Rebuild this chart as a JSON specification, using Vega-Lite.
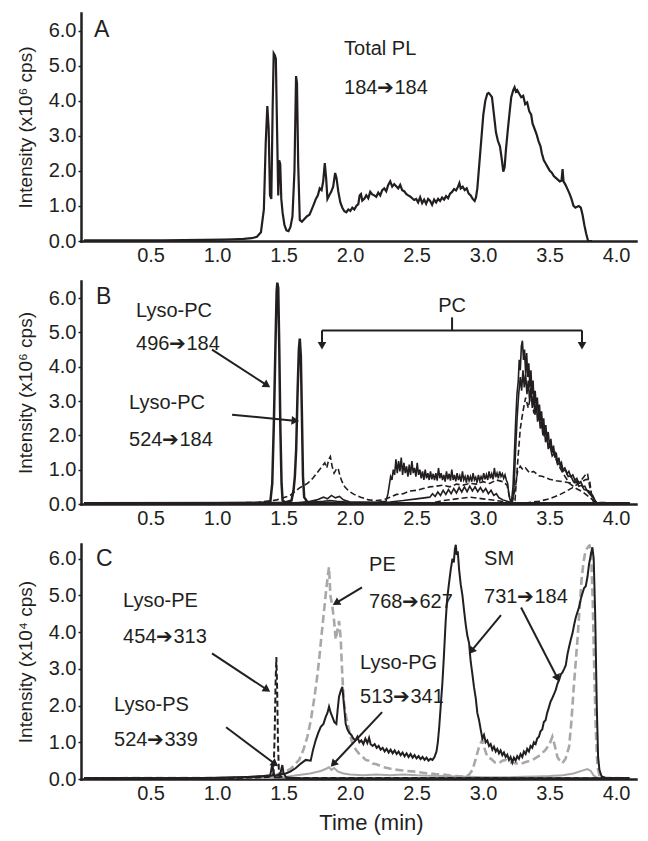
{
"$schema":"https://vega.github.io/schema/vega-lite/v6.json",
"padding":{"left":16,"top":13,"right":9,"bottom":2},
"autosize":{"type":"pad"},
"background":"white",
"spacing":16,
"config":{
 "view":{"stroke":null},
 "axis":{"domainColor":"#231f20","domainWidth":2.5,"domainCap":"square","tickColor":"#231f20","tickWidth":1.5,"labelFont":"Liberation Sans","labelFontSize":20,"labelColor":"#231f20","titleFont":"Liberation Sans","titleFontSize":19,"titleFontWeight":"normal","titleColor":"#231f20","grid":false,"labelOverlap":false},
 "text":{"font":"Liberation Sans","color":"#231f20"}
},
"datasets":{
"A":[
{"t":0,"v":0.02},{"t":0.3,"v":0.02},{"t":0.6,"v":0.02},{"t":0.9,"v":0.03},{"t":1.05,"v":0.04},{"t":1.12,"v":0.05},{"t":1.2,"v":0.06},{"t":1.26,"v":0.08},{"t":1.3,"v":0.12},{"t":1.33,"v":0.25},{"t":1.352,"v":0.9},{"t":1.366,"v":2.8},{"t":1.378,"v":3.85},{"t":1.388,"v":3.2},{"t":1.398,"v":1.3},{"t":1.408,"v":1.2},{"t":1.418,"v":3.8},{"t":1.426,"v":5.35},{"t":1.434,"v":5.3},{"t":1.442,"v":5.2},{"t":1.452,"v":3.0},{"t":1.46,"v":1.3},{"t":1.467,"v":2.3},{"t":1.475,"v":2.2},{"t":1.483,"v":1.2},{"t":1.493,"v":0.8},{"t":1.507,"v":0.45},{"t":1.522,"v":0.3},{"t":1.537,"v":0.28},{"t":1.552,"v":0.4},{"t":1.567,"v":0.7},{"t":1.582,"v":2.0},{"t":1.594,"v":4.7},{"t":1.601,"v":4.5},{"t":1.61,"v":2.2},{"t":1.622,"v":0.6},{"t":1.638,"v":0.55},{"t":1.655,"v":0.62},{"t":1.675,"v":0.7},{"t":1.695,"v":0.75},{"t":1.712,"v":0.9},{"t":1.728,"v":1.05},{"t":1.743,"v":1.2},{"t":1.758,"v":1.3},{"t":1.772,"v":1.5},{"t":1.786,"v":1.45},{"t":1.798,"v":1.7},{"t":1.81,"v":2.22},{"t":1.82,"v":1.8},{"t":1.83,"v":1.2},{"t":1.843,"v":1.3},{"t":1.858,"v":1.4},{"t":1.873,"v":1.55},{"t":1.888,"v":1.94},{"t":1.898,"v":1.8},{"t":1.912,"v":1.4},{"t":1.927,"v":1.1},{"t":1.942,"v":0.95},{"t":1.957,"v":0.85},{"t":1.972,"v":0.82},{"t":1.987,"v":0.9},{"t":2.002,"v":0.86},{"t":2.017,"v":0.95},{"t":2.032,"v":0.9},{"t":2.047,"v":1.0},{"t":2.062,"v":1.05},{"t":2.072,"v":1.3},{"t":2.082,"v":1.34},{"t":2.092,"v":1.15},{"t":2.107,"v":1.2},{"t":2.122,"v":1.3},{"t":2.137,"v":1.22},{"t":2.152,"v":1.4},{"t":2.167,"v":1.33},{"t":2.182,"v":1.3},{"t":2.197,"v":1.26},{"t":2.212,"v":1.38},{"t":2.227,"v":1.3},{"t":2.242,"v":1.45},{"t":2.257,"v":1.5},{"t":2.272,"v":1.42},{"t":2.287,"v":1.6},{"t":2.302,"v":1.7},{"t":2.317,"v":1.55},{"t":2.332,"v":1.62},{"t":2.347,"v":1.56},{"t":2.362,"v":1.5},{"t":2.377,"v":1.6},{"t":2.392,"v":1.45},{"t":2.407,"v":1.42},{"t":2.422,"v":1.34},{"t":2.437,"v":1.3},{"t":2.452,"v":1.27},{"t":2.467,"v":1.22},{"t":2.482,"v":1.17},{"t":2.497,"v":1.2},{"t":2.512,"v":1.1},{"t":2.527,"v":1.25},{"t":2.542,"v":1.08},{"t":2.557,"v":1.18},{"t":2.572,"v":1.06},{"t":2.587,"v":1.2},{"t":2.602,"v":1.14},{"t":2.617,"v":1.03},{"t":2.632,"v":1.18},{"t":2.647,"v":1.1},{"t":2.662,"v":1.2},{"t":2.677,"v":1.14},{"t":2.692,"v":1.24},{"t":2.707,"v":1.18},{"t":2.722,"v":1.28},{"t":2.737,"v":1.22},{"t":2.752,"v":1.35},{"t":2.767,"v":1.4},{"t":2.782,"v":1.48},{"t":2.797,"v":1.44},{"t":2.812,"v":1.55},{"t":2.822,"v":1.65},{"t":2.832,"v":1.5},{"t":2.847,"v":1.55},{"t":2.862,"v":1.45},{"t":2.877,"v":1.5},{"t":2.892,"v":1.35},{"t":2.907,"v":1.3},{"t":2.922,"v":1.2},{"t":2.937,"v":1.14},{"t":2.947,"v":1.25},{"t":2.957,"v":1.5},{"t":2.972,"v":2.2},{"t":2.987,"v":2.9},{"t":3.002,"v":3.6},{"t":3.017,"v":4.0},{"t":3.032,"v":4.2},{"t":3.042,"v":4.22},{"t":3.052,"v":4.18},{"t":3.067,"v":4.1},{"t":3.082,"v":3.6},{"t":3.097,"v":3.1},{"t":3.112,"v":2.85},{"t":3.127,"v":2.7},{"t":3.142,"v":2.3},{"t":3.152,"v":1.98},{"t":3.162,"v":2.1},{"t":3.172,"v":2.6},{"t":3.187,"v":3.2},{"t":3.202,"v":3.75},{"t":3.212,"v":4.1},{"t":3.227,"v":4.3},{"t":3.237,"v":4.38},{"t":3.247,"v":4.26},{"t":3.257,"v":4.3},{"t":3.272,"v":4.2},{"t":3.287,"v":4.1},{"t":3.302,"v":4.14},{"t":3.317,"v":3.9},{"t":3.332,"v":3.95},{"t":3.347,"v":3.7},{"t":3.362,"v":3.6},{"t":3.372,"v":3.35},{"t":3.387,"v":3.2},{"t":3.402,"v":3.05},{"t":3.417,"v":2.85},{"t":3.432,"v":2.7},{"t":3.442,"v":2.5},{"t":3.457,"v":2.3},{"t":3.472,"v":2.2},{"t":3.487,"v":2.1},{"t":3.502,"v":2.0},{"t":3.517,"v":1.95},{"t":3.532,"v":1.85},{"t":3.547,"v":1.8},{"t":3.562,"v":1.75},{"t":3.577,"v":1.7},{"t":3.59,"v":1.72},{"t":3.598,"v":2.05},{"t":3.605,"v":1.7},{"t":3.62,"v":1.6},{"t":3.635,"v":1.48},{"t":3.65,"v":1.35},{"t":3.665,"v":1.2},{"t":3.68,"v":1.0},{"t":3.695,"v":0.95},{"t":3.708,"v":0.98},{"t":3.72,"v":1.0},{"t":3.735,"v":0.95},{"t":3.748,"v":0.75},{"t":3.762,"v":0.45},{"t":3.776,"v":0.2},{"t":3.79,"v":0.0},{"t":3.82,"v":0.0}
],
"B":[
{"s":"L496","t":0,"v":0.02},{"s":"L496","t":1.0,"v":0.02},{"s":"L496","t":1.3,"v":0.03},{"s":"L496","t":1.4,"v":0.05},{"s":"L496","t":1.415,"v":0.6},{"s":"L496","t":1.428,"v":2.5},{"s":"L496","t":1.44,"v":4.8},{"s":"L496","t":1.448,"v":6.2},{"s":"L496","t":1.453,"v":6.45},{"s":"L496","t":1.46,"v":6.3},{"s":"L496","t":1.468,"v":4.5},{"s":"L496","t":1.476,"v":2.2},{"s":"L496","t":1.485,"v":0.6},{"s":"L496","t":1.493,"v":0.1},{"s":"L496","t":1.52,"v":0.03},{"s":"L496","t":2.0,"v":0.02},{"s":"L496","t":4.1,"v":0.02},
{"s":"L524","t":0,"v":0.02},{"s":"L524","t":1.5,"v":0.03},{"s":"L524","t":1.56,"v":0.1},{"s":"L524","t":1.575,"v":0.4},{"s":"L524","t":1.585,"v":0.8},{"s":"L524","t":1.595,"v":1.6},{"s":"L524","t":1.605,"v":3.2},{"s":"L524","t":1.615,"v":4.5},{"s":"L524","t":1.622,"v":4.82},{"s":"L524","t":1.63,"v":4.3},{"s":"L524","t":1.638,"v":2.6},{"s":"L524","t":1.646,"v":0.8},{"s":"L524","t":1.655,"v":0.2},{"s":"L524","t":1.68,"v":0.05},{"s":"L524","t":2.0,"v":0.02},{"s":"L524","t":4.1,"v":0.02},
{"s":"PC1","t":0,"v":0.02},{"s":"PC1","t":1.5,"v":0.03},{"s":"PC1","t":1.7,"v":0.05},{"s":"PC1","t":1.8,"v":0.08},{"s":"PC1","t":1.85,"v":0.1},{"s":"PC1","t":1.9,"v":0.08},{"s":"PC1","t":2.0,"v":0.05},{"s":"PC1","t":2.2,"v":0.05},{"s":"PC1","t":2.27,"v":0.08},{"s":"PC1","t":2.285,"v":0.3},{"s":"PC1","t":2.295,"v":0.55},{"s":"PC1","t":2.305,"v":0.8},{"s":"PC1","t":2.315,"v":0.7},{"s":"PC1","t":2.325,"v":1.0},{"s":"PC1","t":2.335,"v":0.85},{"s":"PC1","t":2.345,"v":1.3},{"s":"PC1","t":2.355,"v":0.9},{"s":"PC1","t":2.365,"v":1.25},{"s":"PC1","t":2.375,"v":0.95},{"s":"PC1","t":2.385,"v":1.35},{"s":"PC1","t":2.395,"v":0.85},{"s":"PC1","t":2.405,"v":1.2},{"s":"PC1","t":2.415,"v":0.9},{"s":"PC1","t":2.425,"v":1.1},{"s":"PC1","t":2.435,"v":0.8},{"s":"PC1","t":2.445,"v":1.15},{"s":"PC1","t":2.455,"v":0.85},{"s":"PC1","t":2.465,"v":1.25},{"s":"PC1","t":2.475,"v":0.9},{"s":"PC1","t":2.485,"v":1.05},{"s":"PC1","t":2.495,"v":0.8},{"s":"PC1","t":2.505,"v":1.2},{"s":"PC1","t":2.515,"v":0.85},{"s":"PC1","t":2.525,"v":1.0},{"s":"PC1","t":2.535,"v":0.75},{"s":"PC1","t":2.545,"v":0.95},{"s":"PC1","t":2.555,"v":0.7},{"s":"PC1","t":2.565,"v":1.0},{"s":"PC1","t":2.575,"v":0.75},{"s":"PC1","t":2.585,"v":0.9},{"s":"PC1","t":2.595,"v":0.7},{"s":"PC1","t":2.605,"v":0.95},{"s":"PC1","t":2.615,"v":0.72},{"s":"PC1","t":2.625,"v":0.88},{"s":"PC1","t":2.635,"v":0.7},{"s":"PC1","t":2.645,"v":0.9},{"s":"PC1","t":2.655,"v":0.68},{"s":"PC1","t":2.665,"v":1.05},{"s":"PC1","t":2.675,"v":0.75},{"s":"PC1","t":2.685,"v":0.9},{"s":"PC1","t":2.695,"v":0.7},{"s":"PC1","t":2.705,"v":0.85},{"s":"PC1","t":2.715,"v":0.65},{"s":"PC1","t":2.725,"v":0.95},{"s":"PC1","t":2.735,"v":0.72},{"s":"PC1","t":2.745,"v":0.88},{"s":"PC1","t":2.755,"v":0.68},{"s":"PC1","t":2.765,"v":1.0},{"s":"PC1","t":2.775,"v":0.7},{"s":"PC1","t":2.785,"v":0.85},{"s":"PC1","t":2.795,"v":0.66},{"s":"PC1","t":2.805,"v":0.9},{"s":"PC1","t":2.815,"v":0.7},{"s":"PC1","t":2.825,"v":0.82},{"s":"PC1","t":2.835,"v":0.65},{"s":"PC1","t":2.845,"v":0.95},{"s":"PC1","t":2.855,"v":0.7},{"s":"PC1","t":2.865,"v":0.8},{"s":"PC1","t":2.875,"v":0.62},{"s":"PC1","t":2.885,"v":0.85},{"s":"PC1","t":2.895,"v":0.68},{"s":"PC1","t":2.905,"v":0.8},{"s":"PC1","t":2.915,"v":0.65},{"s":"PC1","t":2.925,"v":0.9},{"s":"PC1","t":2.935,"v":0.7},{"s":"PC1","t":2.945,"v":0.78},{"s":"PC1","t":2.955,"v":0.62},{"s":"PC1","t":2.965,"v":0.85},{"s":"PC1","t":2.975,"v":0.68},{"s":"PC1","t":2.985,"v":0.8},{"s":"PC1","t":2.995,"v":0.7},{"s":"PC1","t":3.005,"v":0.9},{"s":"PC1","t":3.015,"v":0.72},{"s":"PC1","t":3.025,"v":0.85},{"s":"PC1","t":3.035,"v":0.7},{"s":"PC1","t":3.045,"v":0.95},{"s":"PC1","t":3.055,"v":0.75},{"s":"PC1","t":3.065,"v":0.88},{"s":"PC1","t":3.075,"v":0.72},{"s":"PC1","t":3.085,"v":1.05},{"s":"PC1","t":3.095,"v":0.78},{"s":"PC1","t":3.105,"v":0.9},{"s":"PC1","t":3.115,"v":0.75},{"s":"PC1","t":3.125,"v":0.95},{"s":"PC1","t":3.135,"v":0.8},{"s":"PC1","t":3.145,"v":0.88},{"s":"PC1","t":3.155,"v":0.75},{"s":"PC1","t":3.165,"v":0.85},{"s":"PC1","t":3.175,"v":0.7},{"s":"PC1","t":3.185,"v":0.6},{"s":"PC1","t":3.195,"v":0.25},{"s":"PC1","t":3.205,"v":0.1},{"s":"PC1","t":3.215,"v":0.12},{"s":"PC1","t":3.225,"v":0.5},{"s":"PC1","t":3.235,"v":1.4},{"s":"PC1","t":3.245,"v":2.4},{"s":"PC1","t":3.255,"v":3.2},{"s":"PC1","t":3.265,"v":3.6},{"s":"PC1","t":3.272,"v":4.2},{"s":"PC1","t":3.28,"v":3.9},{"s":"PC1","t":3.288,"v":4.6},{"s":"PC1","t":3.296,"v":4.76},{"s":"PC1","t":3.304,"v":4.2},{"s":"PC1","t":3.312,"v":4.5},{"s":"PC1","t":3.32,"v":3.8},{"s":"PC1","t":3.328,"v":4.4},{"s":"PC1","t":3.336,"v":3.7},{"s":"PC1","t":3.344,"v":4.1},{"s":"PC1","t":3.352,"v":3.4},{"s":"PC1","t":3.36,"v":3.9},{"s":"PC1","t":3.368,"v":3.2},{"s":"PC1","t":3.376,"v":3.6},{"s":"PC1","t":3.384,"v":2.9},{"s":"PC1","t":3.392,"v":3.3},{"s":"PC1","t":3.4,"v":2.8},{"s":"PC1","t":3.408,"v":3.1},{"s":"PC1","t":3.416,"v":2.6},{"s":"PC1","t":3.424,"v":2.9},{"s":"PC1","t":3.432,"v":2.4},{"s":"PC1","t":3.44,"v":2.7},{"s":"PC1","t":3.448,"v":2.2},{"s":"PC1","t":3.456,"v":2.5},{"s":"PC1","t":3.464,"v":2.0},{"s":"PC1","t":3.472,"v":2.3},{"s":"PC1","t":3.48,"v":1.9},{"s":"PC1","t":3.49,"v":2.1},{"s":"PC1","t":3.5,"v":1.7},{"s":"PC1","t":3.51,"v":1.9},{"s":"PC1","t":3.52,"v":1.5},{"s":"PC1","t":3.53,"v":1.7},{"s":"PC1","t":3.54,"v":1.35},{"s":"PC1","t":3.55,"v":1.5},{"s":"PC1","t":3.56,"v":1.2},{"s":"PC1","t":3.57,"v":1.35},{"s":"PC1","t":3.58,"v":1.1},{"s":"PC1","t":3.59,"v":1.2},{"s":"PC1","t":3.6,"v":1.0},{"s":"PC1","t":3.615,"v":1.05},{"s":"PC1","t":3.63,"v":0.88},{"s":"PC1","t":3.645,"v":0.95},{"s":"PC1","t":3.66,"v":0.8},{"s":"PC1","t":3.675,"v":0.85},{"s":"PC1","t":3.69,"v":0.7},{"s":"PC1","t":3.705,"v":0.75},{"s":"PC1","t":3.72,"v":0.6},{"s":"PC1","t":3.735,"v":0.65},{"s":"PC1","t":3.75,"v":0.5},{"s":"PC1","t":3.765,"v":0.52},{"s":"PC1","t":3.78,"v":0.4},{"s":"PC1","t":3.795,"v":0.38},{"s":"PC1","t":3.81,"v":0.3},{"s":"PC1","t":3.825,"v":0.25},{"s":"PC1","t":3.84,"v":0.12},{"s":"PC1","t":3.855,"v":0.03},{"s":"PC1","t":4.1,"v":0.02},
{"s":"PC2","t":0,"v":0.02},{"s":"PC2","t":1.6,"v":0.03},{"s":"PC2","t":1.7,"v":0.08},{"s":"PC2","t":1.75,"v":0.12},{"s":"PC2","t":1.8,"v":0.2},{"s":"PC2","t":1.83,"v":0.15},{"s":"PC2","t":1.86,"v":0.25},{"s":"PC2","t":1.89,"v":0.18},{"s":"PC2","t":1.92,"v":0.22},{"s":"PC2","t":1.95,"v":0.12},{"s":"PC2","t":2.0,"v":0.06},{"s":"PC2","t":2.2,"v":0.04},{"s":"PC2","t":2.3,"v":0.06},{"s":"PC2","t":2.4,"v":0.1},{"s":"PC2","t":2.5,"v":0.15},{"s":"PC2","t":2.6,"v":0.2},{"s":"PC2","t":2.62,"v":0.3},{"s":"PC2","t":2.64,"v":0.22},{"s":"PC2","t":2.66,"v":0.35},{"s":"PC2","t":2.68,"v":0.25},{"s":"PC2","t":2.7,"v":0.4},{"s":"PC2","t":2.72,"v":0.28},{"s":"PC2","t":2.74,"v":0.42},{"s":"PC2","t":2.76,"v":0.3},{"s":"PC2","t":2.78,"v":0.45},{"s":"PC2","t":2.8,"v":0.32},{"s":"PC2","t":2.82,"v":0.48},{"s":"PC2","t":2.84,"v":0.35},{"s":"PC2","t":2.86,"v":0.5},{"s":"PC2","t":2.88,"v":0.36},{"s":"PC2","t":2.9,"v":0.52},{"s":"PC2","t":2.92,"v":0.38},{"s":"PC2","t":2.94,"v":0.5},{"s":"PC2","t":2.96,"v":0.36},{"s":"PC2","t":2.98,"v":0.48},{"s":"PC2","t":3.0,"v":0.35},{"s":"PC2","t":3.02,"v":0.45},{"s":"PC2","t":3.04,"v":0.3},{"s":"PC2","t":3.06,"v":0.4},{"s":"PC2","t":3.08,"v":0.25},{"s":"PC2","t":3.1,"v":0.3},{"s":"PC2","t":3.12,"v":0.18},{"s":"PC2","t":3.15,"v":0.12},{"s":"PC2","t":3.18,"v":0.08},{"s":"PC2","t":3.2,"v":0.05},{"s":"PC2","t":3.22,"v":0.05},{"s":"PC2","t":3.232,"v":0.4},{"s":"PC2","t":3.244,"v":1.5},{"s":"PC2","t":3.256,"v":2.5},{"s":"PC2","t":3.268,"v":3.2},{"s":"PC2","t":3.28,"v":3.7},{"s":"PC2","t":3.29,"v":3.3},{"s":"PC2","t":3.3,"v":3.9},{"s":"PC2","t":3.31,"v":3.4},{"s":"PC2","t":3.32,"v":3.8},{"s":"PC2","t":3.33,"v":3.2},{"s":"PC2","t":3.34,"v":3.6},{"s":"PC2","t":3.35,"v":3.0},{"s":"PC2","t":3.36,"v":3.4},{"s":"PC2","t":3.37,"v":2.8},{"s":"PC2","t":3.38,"v":3.2},{"s":"PC2","t":3.39,"v":2.6},{"s":"PC2","t":3.4,"v":2.9},{"s":"PC2","t":3.41,"v":2.4},{"s":"PC2","t":3.42,"v":2.7},{"s":"PC2","t":3.43,"v":2.2},{"s":"PC2","t":3.44,"v":2.4},{"s":"PC2","t":3.45,"v":2.0},{"s":"PC2","t":3.46,"v":2.2},{"s":"PC2","t":3.47,"v":1.8},{"s":"PC2","t":3.48,"v":2.0},{"s":"PC2","t":3.49,"v":1.6},{"s":"PC2","t":3.5,"v":1.75},{"s":"PC2","t":3.52,"v":1.4},{"s":"PC2","t":3.54,"v":1.5},{"s":"PC2","t":3.56,"v":1.15},{"s":"PC2","t":3.58,"v":1.2},{"s":"PC2","t":3.6,"v":0.95},{"s":"PC2","t":3.62,"v":1.0},{"s":"PC2","t":3.64,"v":0.8},{"s":"PC2","t":3.66,"v":0.82},{"s":"PC2","t":3.68,"v":0.65},{"s":"PC2","t":3.7,"v":0.68},{"s":"PC2","t":3.72,"v":0.52},{"s":"PC2","t":3.74,"v":0.55},{"s":"PC2","t":3.76,"v":0.42},{"s":"PC2","t":3.78,"v":0.4},{"s":"PC2","t":3.8,"v":0.3},{"s":"PC2","t":3.82,"v":0.22},{"s":"PC2","t":3.84,"v":0.1},{"s":"PC2","t":3.86,"v":0.02},{"s":"PC2","t":4.1,"v":0.02},
{"s":"PC3","t":0,"v":0.02},{"s":"PC3","t":1.3,"v":0.04},{"s":"PC3","t":1.45,"v":0.12},{"s":"PC3","t":1.55,"v":0.25},{"s":"PC3","t":1.62,"v":0.47},{"s":"PC3","t":1.68,"v":0.6},{"s":"PC3","t":1.72,"v":0.75},{"s":"PC3","t":1.76,"v":0.95},{"s":"PC3","t":1.79,"v":1.1},{"s":"PC3","t":1.81,"v":1.2},{"s":"PC3","t":1.825,"v":1.05},{"s":"PC3","t":1.84,"v":1.3},{"s":"PC3","t":1.852,"v":1.38},{"s":"PC3","t":1.865,"v":1.1},{"s":"PC3","t":1.88,"v":0.9},{"s":"PC3","t":1.895,"v":1.0},{"s":"PC3","t":1.91,"v":1.05},{"s":"PC3","t":1.925,"v":0.8},{"s":"PC3","t":1.94,"v":0.65},{"s":"PC3","t":1.96,"v":0.5},{"s":"PC3","t":1.99,"v":0.38},{"s":"PC3","t":2.03,"v":0.28},{"s":"PC3","t":2.08,"v":0.2},{"s":"PC3","t":2.14,"v":0.12},{"s":"PC3","t":2.2,"v":0.1},{"s":"PC3","t":2.25,"v":0.12},{"s":"PC3","t":2.3,"v":0.2},{"s":"PC3","t":2.35,"v":0.28},{"s":"PC3","t":2.4,"v":0.3},{"s":"PC3","t":2.45,"v":0.38},{"s":"PC3","t":2.5,"v":0.4},{"s":"PC3","t":2.55,"v":0.45},{"s":"PC3","t":2.6,"v":0.5},{"s":"PC3","t":2.65,"v":0.52},{"s":"PC3","t":2.7,"v":0.55},{"s":"PC3","t":2.75,"v":0.5},{"s":"PC3","t":2.8,"v":0.58},{"s":"PC3","t":2.85,"v":0.55},{"s":"PC3","t":2.9,"v":0.6},{"s":"PC3","t":2.95,"v":0.58},{"s":"PC3","t":3.0,"v":0.65},{"s":"PC3","t":3.05,"v":0.6},{"s":"PC3","t":3.1,"v":0.7},{"s":"PC3","t":3.15,"v":0.65},{"s":"PC3","t":3.18,"v":0.55},{"s":"PC3","t":3.2,"v":0.2},{"s":"PC3","t":3.22,"v":0.08},{"s":"PC3","t":3.24,"v":0.4},{"s":"PC3","t":3.26,"v":0.96},{"s":"PC3","t":3.28,"v":1.1},{"s":"PC3","t":3.3,"v":1.0},{"s":"PC3","t":3.32,"v":1.05},{"s":"PC3","t":3.35,"v":0.9},{"s":"PC3","t":3.38,"v":0.95},{"s":"PC3","t":3.42,"v":0.82},{"s":"PC3","t":3.45,"v":0.8},{"s":"PC3","t":3.5,"v":0.72},{"s":"PC3","t":3.55,"v":0.68},{"s":"PC3","t":3.6,"v":0.65},{"s":"PC3","t":3.65,"v":0.62},{"s":"PC3","t":3.7,"v":0.62},{"s":"PC3","t":3.74,"v":0.7},{"s":"PC3","t":3.77,"v":0.85},{"s":"PC3","t":3.785,"v":0.9},{"s":"PC3","t":3.8,"v":0.55},{"s":"PC3","t":3.82,"v":0.2},{"s":"PC3","t":3.85,"v":0.03},{"s":"PC3","t":4.1,"v":0.02},
{"s":"PC4","t":0,"v":0.02},{"s":"PC4","t":3.3,"v":0.02},{"s":"PC4","t":3.42,"v":0.08},{"s":"PC4","t":3.5,"v":0.15},{"s":"PC4","t":3.57,"v":0.26},{"s":"PC4","t":3.62,"v":0.36},{"s":"PC4","t":3.67,"v":0.47},{"s":"PC4","t":3.72,"v":0.6},{"s":"PC4","t":3.772,"v":0.71},{"s":"PC4","t":3.8,"v":0.72},{"s":"PC4","t":3.815,"v":0.3},{"s":"PC4","t":3.83,"v":0.05},{"s":"PC4","t":4.1,"v":0.02},
{"s":"PC5","t":0,"v":0.02},{"s":"PC5","t":2.6,"v":0.02},{"s":"PC5","t":2.7,"v":0.1},{"s":"PC5","t":2.8,"v":0.15},{"s":"PC5","t":2.9,"v":0.2},{"s":"PC5","t":3.0,"v":0.15},{"s":"PC5","t":3.1,"v":0.1},{"s":"PC5","t":3.2,"v":0.05},{"s":"PC5","t":3.24,"v":0.1},{"s":"PC5","t":3.26,"v":1.2},{"s":"PC5","t":3.28,"v":2.2},{"s":"PC5","t":3.3,"v":2.7},{"s":"PC5","t":3.32,"v":3.1},{"s":"PC5","t":3.34,"v":2.8},{"s":"PC5","t":3.36,"v":3.2},{"s":"PC5","t":3.38,"v":2.7},{"s":"PC5","t":3.4,"v":2.9},{"s":"PC5","t":3.42,"v":2.4},{"s":"PC5","t":3.44,"v":2.5},{"s":"PC5","t":3.46,"v":2.0},{"s":"PC5","t":3.48,"v":2.1},{"s":"PC5","t":3.5,"v":1.7},{"s":"PC5","t":3.53,"v":1.5},{"s":"PC5","t":3.56,"v":1.2},{"s":"PC5","t":3.6,"v":0.9},{"s":"PC5","t":3.65,"v":0.6},{"s":"PC5","t":3.7,"v":0.45},{"s":"PC5","t":3.75,"v":0.35},{"s":"PC5","t":3.8,"v":0.2},{"s":"PC5","t":3.85,"v":0.03},{"s":"PC5","t":4.1,"v":0.02}
],
"C":[
{"s":"SM","t":0,"v":0.02},{"s":"SM","t":0.8,"v":0.02},{"s":"SM","t":1.1,"v":0.04},{"s":"SM","t":1.3,"v":0.06},{"s":"SM","t":1.45,"v":0.1},{"s":"SM","t":1.516,"v":0.15},{"s":"SM","t":1.55,"v":0.2},{"s":"SM","t":1.592,"v":0.3},{"s":"SM","t":1.63,"v":0.42},{"s":"SM","t":1.667,"v":0.52},{"s":"SM","t":1.704,"v":0.5},{"s":"SM","t":1.722,"v":0.8},{"s":"SM","t":1.742,"v":1.06},{"s":"SM","t":1.76,"v":1.25},{"s":"SM","t":1.78,"v":1.42},{"s":"SM","t":1.8,"v":1.5},{"s":"SM","t":1.817,"v":1.69},{"s":"SM","t":1.83,"v":1.8},{"s":"SM","t":1.842,"v":1.97},{"s":"SM","t":1.855,"v":1.8},{"s":"SM","t":1.867,"v":1.69},{"s":"SM","t":1.882,"v":1.55},{"s":"SM","t":1.897,"v":1.5},{"s":"SM","t":1.907,"v":1.9},{"s":"SM","t":1.917,"v":2.24},{"s":"SM","t":1.93,"v":2.4},{"s":"SM","t":1.942,"v":2.51},{"s":"SM","t":1.955,"v":2.0},{"s":"SM","t":1.967,"v":1.51},{"s":"SM","t":1.98,"v":1.35},{"s":"SM","t":1.995,"v":1.25},{"s":"SM","t":2.01,"v":1.2},{"s":"SM","t":2.025,"v":1.1},{"s":"SM","t":2.04,"v":1.05},{"s":"SM","t":2.055,"v":1.15},{"s":"SM","t":2.07,"v":1.0},{"s":"SM","t":2.085,"v":1.05},{"s":"SM","t":2.1,"v":0.95},{"s":"SM","t":2.115,"v":1.1},{"s":"SM","t":2.13,"v":0.98},{"s":"SM","t":2.143,"v":1.12},{"s":"SM","t":2.155,"v":0.95},{"s":"SM","t":2.17,"v":0.9},{"s":"SM","t":2.185,"v":0.95},{"s":"SM","t":2.2,"v":0.85},{"s":"SM","t":2.215,"v":0.9},{"s":"SM","t":2.23,"v":0.8},{"s":"SM","t":2.245,"v":0.85},{"s":"SM","t":2.26,"v":0.75},{"s":"SM","t":2.275,"v":0.82},{"s":"SM","t":2.29,"v":0.72},{"s":"SM","t":2.305,"v":0.8},{"s":"SM","t":2.32,"v":0.7},{"s":"SM","t":2.335,"v":0.78},{"s":"SM","t":2.35,"v":0.68},{"s":"SM","t":2.365,"v":0.75},{"s":"SM","t":2.38,"v":0.65},{"s":"SM","t":2.395,"v":0.72},{"s":"SM","t":2.41,"v":0.62},{"s":"SM","t":2.425,"v":0.7},{"s":"SM","t":2.44,"v":0.6},{"s":"SM","t":2.455,"v":0.68},{"s":"SM","t":2.47,"v":0.58},{"s":"SM","t":2.485,"v":0.65},{"s":"SM","t":2.5,"v":0.56},{"s":"SM","t":2.515,"v":0.62},{"s":"SM","t":2.53,"v":0.54},{"s":"SM","t":2.545,"v":0.6},{"s":"SM","t":2.56,"v":0.52},{"s":"SM","t":2.575,"v":0.58},{"s":"SM","t":2.59,"v":0.5},{"s":"SM","t":2.605,"v":0.55},{"s":"SM","t":2.62,"v":0.52},{"s":"SM","t":2.635,"v":0.6},{"s":"SM","t":2.65,"v":0.75},{"s":"SM","t":2.66,"v":1.0},{"s":"SM","t":2.67,"v":1.4},{"s":"SM","t":2.68,"v":1.9},{"s":"SM","t":2.694,"v":2.6},{"s":"SM","t":2.705,"v":3.3},{"s":"SM","t":2.719,"v":4.3},{"s":"SM","t":2.73,"v":4.9},{"s":"SM","t":2.743,"v":5.3},{"s":"SM","t":2.757,"v":5.7},{"s":"SM","t":2.77,"v":6.0},{"s":"SM","t":2.78,"v":5.9},{"s":"SM","t":2.788,"v":6.25},{"s":"SM","t":2.795,"v":6.38},{"s":"SM","t":2.802,"v":6.1},{"s":"SM","t":2.81,"v":6.2},{"s":"SM","t":2.82,"v":5.7},{"s":"SM","t":2.832,"v":5.3},{"s":"SM","t":2.845,"v":5.0},{"s":"SM","t":2.857,"v":4.6},{"s":"SM","t":2.87,"v":4.2},{"s":"SM","t":2.882,"v":3.9},{"s":"SM","t":2.895,"v":3.7},{"s":"SM","t":2.907,"v":3.2},{"s":"SM","t":2.92,"v":2.85},{"s":"SM","t":2.932,"v":2.5},{"s":"SM","t":2.945,"v":2.2},{"s":"SM","t":2.957,"v":1.8},{"s":"SM","t":2.97,"v":1.6},{"s":"SM","t":2.982,"v":1.35},{"s":"SM","t":2.995,"v":1.1},{"s":"SM","t":3.007,"v":1.2},{"s":"SM","t":3.02,"v":1.0},{"s":"SM","t":3.032,"v":1.05},{"s":"SM","t":3.045,"v":0.9},{"s":"SM","t":3.057,"v":0.95},{"s":"SM","t":3.07,"v":0.8},{"s":"SM","t":3.082,"v":0.88},{"s":"SM","t":3.095,"v":0.75},{"s":"SM","t":3.107,"v":0.82},{"s":"SM","t":3.12,"v":0.7},{"s":"SM","t":3.132,"v":0.78},{"s":"SM","t":3.145,"v":0.65},{"s":"SM","t":3.157,"v":0.72},{"s":"SM","t":3.17,"v":0.6},{"s":"SM","t":3.182,"v":0.66},{"s":"SM","t":3.195,"v":0.52},{"s":"SM","t":3.207,"v":0.6},{"s":"SM","t":3.22,"v":0.45},{"s":"SM","t":3.232,"v":0.58},{"s":"SM","t":3.245,"v":0.5},{"s":"SM","t":3.257,"v":0.62},{"s":"SM","t":3.27,"v":0.55},{"s":"SM","t":3.282,"v":0.68},{"s":"SM","t":3.295,"v":0.6},{"s":"SM","t":3.307,"v":0.75},{"s":"SM","t":3.32,"v":0.68},{"s":"SM","t":3.332,"v":0.82},{"s":"SM","t":3.345,"v":0.75},{"s":"SM","t":3.357,"v":0.9},{"s":"SM","t":3.37,"v":0.85},{"s":"SM","t":3.382,"v":1.0},{"s":"SM","t":3.395,"v":0.95},{"s":"SM","t":3.407,"v":1.1},{"s":"SM","t":3.42,"v":1.15},{"s":"SM","t":3.432,"v":1.3},{"s":"SM","t":3.445,"v":1.35},{"s":"SM","t":3.457,"v":1.55},{"s":"SM","t":3.47,"v":1.6},{"s":"SM","t":3.482,"v":1.8},{"s":"SM","t":3.495,"v":1.95},{"s":"SM","t":3.507,"v":2.1},{"s":"SM","t":3.52,"v":2.2},{"s":"SM","t":3.532,"v":2.3},{"s":"SM","t":3.546,"v":2.42},{"s":"SM","t":3.56,"v":2.6},{"s":"SM","t":3.572,"v":2.7},{"s":"SM","t":3.585,"v":2.85},{"s":"SM","t":3.597,"v":2.9},{"s":"SM","t":3.61,"v":3.0},{"s":"SM","t":3.622,"v":3.1},{"s":"SM","t":3.635,"v":3.4},{"s":"SM","t":3.647,"v":3.6},{"s":"SM","t":3.66,"v":3.8},{"s":"SM","t":3.672,"v":3.96},{"s":"SM","t":3.685,"v":4.2},{"s":"SM","t":3.697,"v":4.4},{"s":"SM","t":3.71,"v":4.55},{"s":"SM","t":3.722,"v":4.68},{"s":"SM","t":3.735,"v":4.9},{"s":"SM","t":3.747,"v":5.05},{"s":"SM","t":3.76,"v":5.2},{"s":"SM","t":3.772,"v":5.25},{"s":"SM","t":3.785,"v":5.5},{"s":"SM","t":3.797,"v":5.85},{"s":"SM","t":3.81,"v":6.1},{"s":"SM","t":3.822,"v":6.31},{"s":"SM","t":3.832,"v":6.0},{"s":"SM","t":3.843,"v":4.5},{"s":"SM","t":3.855,"v":2.0},{"s":"SM","t":3.865,"v":0.6},{"s":"SM","t":3.875,"v":0.25},{"s":"SM","t":3.89,"v":0.08},{"s":"SM","t":3.92,"v":0.03},{"s":"SM","t":4.1,"v":0.02},
{"s":"PE","t":0,"v":0.02},{"s":"PE","t":1.3,"v":0.03},{"s":"PE","t":1.42,"v":0.08},{"s":"PE","t":1.47,"v":0.15},{"s":"PE","t":1.516,"v":0.2},{"s":"PE","t":1.56,"v":0.3},{"s":"PE","t":1.617,"v":0.52},{"s":"PE","t":1.65,"v":0.8},{"s":"PE","t":1.679,"v":1.15},{"s":"PE","t":1.705,"v":1.6},{"s":"PE","t":1.729,"v":2.15},{"s":"PE","t":1.75,"v":2.7},{"s":"PE","t":1.767,"v":3.23},{"s":"PE","t":1.785,"v":3.9},{"s":"PE","t":1.805,"v":4.6},{"s":"PE","t":1.822,"v":5.2},{"s":"PE","t":1.835,"v":5.6},{"s":"PE","t":1.842,"v":5.77},{"s":"PE","t":1.852,"v":5.0},{"s":"PE","t":1.867,"v":4.7},{"s":"PE","t":1.88,"v":4.3},{"s":"PE","t":1.892,"v":3.8},{"s":"PE","t":1.905,"v":4.05},{"s":"PE","t":1.918,"v":4.3},{"s":"PE","t":1.93,"v":3.8},{"s":"PE","t":1.942,"v":2.8},{"s":"PE","t":1.955,"v":2.06},{"s":"PE","t":1.97,"v":1.7},{"s":"PE","t":1.992,"v":1.33},{"s":"PE","t":2.015,"v":1.0},{"s":"PE","t":2.043,"v":0.8},{"s":"PE","t":2.07,"v":0.68},{"s":"PE","t":2.095,"v":0.6},{"s":"PE","t":2.118,"v":0.52},{"s":"PE","t":2.14,"v":0.5},{"s":"PE","t":2.17,"v":0.42},{"s":"PE","t":2.2,"v":0.4},{"s":"PE","t":2.243,"v":0.33},{"s":"PE","t":2.28,"v":0.3},{"s":"PE","t":2.33,"v":0.26},{"s":"PE","t":2.38,"v":0.24},{"s":"PE","t":2.43,"v":0.22},{"s":"PE","t":2.494,"v":0.2},{"s":"PE","t":2.55,"v":0.17},{"s":"PE","t":2.6,"v":0.15},{"s":"PE","t":2.65,"v":0.13},{"s":"PE","t":2.7,"v":0.12},{"s":"PE","t":2.744,"v":0.1},{"s":"PE","t":2.8,"v":0.08},{"s":"PE","t":2.87,"v":0.06},{"s":"PE","t":2.895,"v":0.12},{"s":"PE","t":2.92,"v":0.24},{"s":"PE","t":2.945,"v":0.55},{"s":"PE","t":2.97,"v":0.88},{"s":"PE","t":2.985,"v":1.0},{"s":"PE","t":2.995,"v":1.06},{"s":"PE","t":3.01,"v":0.85},{"s":"PE","t":3.032,"v":0.6},{"s":"PE","t":3.06,"v":0.55},{"s":"PE","t":3.09,"v":0.45},{"s":"PE","t":3.12,"v":0.43},{"s":"PE","t":3.145,"v":0.5},{"s":"PE","t":3.17,"v":0.52},{"s":"PE","t":3.2,"v":0.45},{"s":"PE","t":3.246,"v":0.43},{"s":"PE","t":3.28,"v":0.4},{"s":"PE","t":3.31,"v":0.45},{"s":"PE","t":3.34,"v":0.48},{"s":"PE","t":3.37,"v":0.52},{"s":"PE","t":3.4,"v":0.58},{"s":"PE","t":3.43,"v":0.65},{"s":"PE","t":3.471,"v":0.8},{"s":"PE","t":3.5,"v":0.95},{"s":"PE","t":3.521,"v":1.15},{"s":"PE","t":3.54,"v":0.9},{"s":"PE","t":3.559,"v":0.6},{"s":"PE","t":3.58,"v":0.48},{"s":"PE","t":3.596,"v":0.43},{"s":"PE","t":3.62,"v":0.55},{"s":"PE","t":3.647,"v":0.88},{"s":"PE","t":3.665,"v":1.6},{"s":"PE","t":3.68,"v":2.4},{"s":"PE","t":3.697,"v":3.2},{"s":"PE","t":3.712,"v":3.9},{"s":"PE","t":3.725,"v":4.6},{"s":"PE","t":3.74,"v":5.4},{"s":"PE","t":3.755,"v":5.9},{"s":"PE","t":3.77,"v":6.2},{"s":"PE","t":3.785,"v":6.3},{"s":"PE","t":3.8,"v":6.36},{"s":"PE","t":3.812,"v":6.2},{"s":"PE","t":3.825,"v":4.8},{"s":"PE","t":3.837,"v":2.8},{"s":"PE","t":3.848,"v":1.3},{"s":"PE","t":3.86,"v":0.35},{"s":"PE","t":3.875,"v":0.1},{"s":"PE","t":3.9,"v":0.03},{"s":"PE","t":4.1,"v":0.02},
{"s":"PG","t":0,"v":0.02},{"s":"PG","t":1.4,"v":0.03},{"s":"PG","t":1.5,"v":0.05},{"s":"PG","t":1.6,"v":0.1},{"s":"PG","t":1.7,"v":0.15},{"s":"PG","t":1.78,"v":0.22},{"s":"PG","t":1.82,"v":0.28},{"s":"PG","t":1.842,"v":0.32},{"s":"PG","t":1.86,"v":0.25},{"s":"PG","t":1.88,"v":0.3},{"s":"PG","t":1.91,"v":0.2},{"s":"PG","t":1.95,"v":0.15},{"s":"PG","t":2.0,"v":0.12},{"s":"PG","t":2.1,"v":0.1},{"s":"PG","t":2.2,"v":0.12},{"s":"PG","t":2.3,"v":0.1},{"s":"PG","t":2.4,"v":0.12},{"s":"PG","t":2.5,"v":0.1},{"s":"PG","t":2.6,"v":0.09},{"s":"PG","t":2.7,"v":0.08},{"s":"PG","t":2.8,"v":0.07},{"s":"PG","t":2.9,"v":0.06},{"s":"PG","t":3.0,"v":0.05},{"s":"PG","t":3.1,"v":0.05},{"s":"PG","t":3.2,"v":0.05},{"s":"PG","t":3.3,"v":0.06},{"s":"PG","t":3.4,"v":0.07},{"s":"PG","t":3.5,"v":0.08},{"s":"PG","t":3.6,"v":0.1},{"s":"PG","t":3.68,"v":0.15},{"s":"PG","t":3.74,"v":0.22},{"s":"PG","t":3.785,"v":0.27},{"s":"PG","t":3.81,"v":0.22},{"s":"PG","t":3.83,"v":0.1},{"s":"PG","t":3.86,"v":0.03},{"s":"PG","t":4.1,"v":0.02},
{"s":"LPE","t":0,"v":0.02},{"s":"LPE","t":1.0,"v":0.02},{"s":"LPE","t":1.3,"v":0.04},{"s":"LPE","t":1.4,"v":0.06},{"s":"LPE","t":1.425,"v":0.15},{"s":"LPE","t":1.433,"v":1.2},{"s":"LPE","t":1.44,"v":2.6},{"s":"LPE","t":1.446,"v":3.32},{"s":"LPE","t":1.452,"v":2.4},{"s":"LPE","t":1.458,"v":1.0},{"s":"LPE","t":1.465,"v":0.2},{"s":"LPE","t":1.48,"v":0.06},{"s":"LPE","t":1.55,"v":0.03},{"s":"LPE","t":4.1,"v":0.02},
{"s":"LPS","t":0,"v":0.02},{"s":"LPS","t":1.0,"v":0.03},{"s":"LPS","t":1.2,"v":0.05},{"s":"LPS","t":1.35,"v":0.08},{"s":"LPS","t":1.4,"v":0.1},{"s":"LPS","t":1.41,"v":0.3},{"s":"LPS","t":1.416,"v":0.43},{"s":"LPS","t":1.423,"v":0.2},{"s":"LPS","t":1.435,"v":0.05},{"s":"LPS","t":1.47,"v":0.05},{"s":"LPS","t":1.482,"v":0.25},{"s":"LPS","t":1.491,"v":0.38},{"s":"LPS","t":1.5,"v":0.15},{"s":"LPS","t":1.52,"v":0.04},{"s":"LPS","t":1.6,"v":0.02},{"s":"LPS","t":4.1,"v":0.02}
],
"txt":[
{"p":"A","k":"letter","t":0.075,"v":6.01,"label":"A"},
{"p":"A","k":"note","t":1.955,"v":5.46,"label":"Total PL"},
{"p":"A","k":"note","t":1.955,"v":4.37,"label":"184➔184"},
{"p":"B","k":"letter","t":0.09,"v":6.02,"label":"B"},
{"p":"B","k":"note","t":0.391,"v":5.64,"label":"Lyso-PC"},
{"p":"B","k":"note","t":0.391,"v":4.65,"label":"496➔184"},
{"p":"B","k":"note","t":0.338,"v":2.95,"label":"Lyso-PC"},
{"p":"B","k":"note","t":0.338,"v":1.87,"label":"524➔184"},
{"p":"B","k":"center","t":2.767,"v":5.76,"label":"PC"},
{"p":"C","k":"letter","t":0.09,"v":6.0,"label":"C"},
{"p":"C","k":"note","t":0.293,"v":4.86,"label":"Lyso-PE"},
{"p":"C","k":"note","t":0.293,"v":3.86,"label":"454➔313"},
{"p":"C","k":"note","t":0.226,"v":2.01,"label":"Lyso-PS"},
{"p":"C","k":"note","t":0.226,"v":1.06,"label":"524➔339"},
{"p":"C","k":"note","t":2.143,"v":5.82,"label":"PE"},
{"p":"C","k":"note","t":2.143,"v":4.81,"label":"768➔627"},
{"p":"C","k":"note","t":2.075,"v":3.15,"label":"Lyso-PG"},
{"p":"C","k":"note","t":2.075,"v":2.23,"label":"513➔341"},
{"p":"C","k":"note","t":3.008,"v":6.0,"label":"SM"},
{"p":"C","k":"note","t":3.008,"v":4.95,"label":"731➔184"}
],
"arr":[
{"p":"B","t":0.962,"v":4.5,"t2":1.368,"v2":3.48},
{"p":"B","t":1.113,"v":2.6,"t2":1.579,"v2":2.43},
{"p":"B","t":1.789,"v":5.06,"t2":3.744,"v2":5.06},
{"p":"B","t":2.767,"v":5.06,"t2":2.767,"v2":5.44},
{"p":"B","t":1.789,"v":5.06,"t2":1.789,"v2":4.65},
{"p":"B","t":3.744,"v":5.06,"t2":3.744,"v2":4.65},
{"p":"C","t":0.962,"v":3.42,"t2":1.368,"v2":2.45},
{"p":"C","t":1.068,"v":1.41,"t2":1.429,"v2":0.43},
{"p":"C","t":2.09,"v":5.22,"t2":1.902,"v2":4.81},
{"p":"C","t":2.241,"v":1.82,"t2":1.88,"v2":0.43},
{"p":"C","t":3.135,"v":4.46,"t2":2.917,"v2":3.51},
{"p":"C","t":3.286,"v":4.67,"t2":3.556,"v2":2.77}
],
"heads":[
{"p":"B","t":1.368,"v":3.48,"k":1},
{"p":"B","t":1.579,"v":2.43,"k":2},
{"p":"B","t":1.789,"v":4.65,"k":3},
{"p":"B","t":3.744,"v":4.65,"k":4},
{"p":"C","t":1.368,"v":2.45,"k":5},
{"p":"C","t":1.429,"v":0.43,"k":6},
{"p":"C","t":1.902,"v":4.81,"k":7},
{"p":"C","t":1.88,"v":0.43,"k":8},
{"p":"C","t":2.917,"v":3.51,"k":9},
{"p":"C","t":3.556,"v":2.77,"k":10}
]
},
"vconcat":[
{
 "width":555,"height":228,
 "encoding":{
  "x":{"field":"t","type":"quantitative","scale":{"domain":[-0.023,4.15],"nice":false,"zero":false},"axis":{"values":[0.5,1,1.5,2,2.5,3,3.5,4],"format":".1f","ticks":false,"labelPadding":4,"title":null,"labelOverlap":false}},
  "y":{"field":"v","type":"quantitative","scale":{"domain":[0,6.5],"nice":false},"axis":{"values":[0,1,2,3,4,5,6],"format":".1f","labelOverlap":false,"tickSize":3,"labelPadding":2,"titlePadding":13,"title":"Intensity (x10⁶ cps)"}}
 },
 "layer":[
  {"data":{"name":"A"},"mark":{"type":"line","clip":true,"strokeWidth":2.2,"color":"#231f20"}},
  {"data":{"name":"txt"},"transform":[{"filter":"datum.p=='A' && datum.k=='letter'"}],"mark":{"type":"text","align":"left","baseline":"middle","fontSize":23},"encoding":{"text":{"field":"label"}}},
  {"data":{"name":"txt"},"transform":[{"filter":"datum.p=='A' && datum.k=='note'"}],"mark":{"type":"text","align":"left","baseline":"middle","fontSize":20},"encoding":{"text":{"field":"label"}}}
 ]
},
{
 "width":555,"height":223,
 "encoding":{
  "x":{"field":"t","type":"quantitative","scale":{"domain":[-0.023,4.15],"nice":false,"zero":false},"axis":{"values":[0.5,1,1.5,2,2.5,3,3.5,4],"format":".1f","ticks":false,"labelPadding":4,"title":null,"labelOverlap":false}},
  "y":{"field":"v","type":"quantitative","scale":{"domain":[0,6.5],"nice":false},"axis":{"values":[0,1,2,3,4,5,6],"format":".1f","labelOverlap":false,"tickSize":3,"labelPadding":2,"titlePadding":13,"title":"Intensity (x10⁶ cps)"}}
 },
 "layer":[
  {"data":{"name":"txt"},"transform":[{"filter":"datum.p=='B' && datum.k=='letter'"}],"mark":{"type":"text","align":"left","baseline":"middle","fontSize":23},"encoding":{"text":{"field":"label"}}},
  {"data":{"name":"txt"},"transform":[{"filter":"datum.p=='B' && datum.k=='note'"}],"mark":{"type":"text","align":"left","baseline":"middle","fontSize":20},"encoding":{"text":{"field":"label"}}},
  {"data":{"name":"txt"},"transform":[{"filter":"datum.p=='B' && datum.k=='center'"}],"mark":{"type":"text","align":"center","baseline":"middle","fontSize":20},"encoding":{"text":{"field":"label"}}},
  {"data":{"name":"B"},"transform":[{"filter":"datum.s=='PC3' || datum.s=='PC4' || datum.s=='PC5'"}],"mark":{"type":"line","clip":true,"strokeWidth":1.6,"color":"#231f20","strokeDash":[6,3]},"encoding":{"detail":{"field":"s"}}},
  {"data":{"name":"B"},"transform":[{"filter":"datum.s=='PC1' || datum.s=='PC2'"}],"mark":{"type":"line","clip":true,"strokeWidth":1.6,"color":"#231f20"},"encoding":{"detail":{"field":"s"}}},
  {"data":{"name":"B"},"transform":[{"filter":"datum.s=='L496' || datum.s=='L524'"}],"mark":{"type":"line","clip":true,"strokeWidth":2.5,"color":"#231f20"},"encoding":{"detail":{"field":"s"}}},
  {"data":{"name":"arr"},"transform":[{"filter":"datum.p=='B'"}],"mark":{"type":"rule","strokeWidth":2,"color":"#231f20"},"encoding":{"x2":{"field":"t2"},"y2":{"field":"v2"}}},
  {"data":{"name":"heads"},"transform":[{"filter":"datum.p=='B'"}],"mark":{"type":"point","shape":"triangle","filled":true,"size":75,"color":"#231f20","opacity":1,"strokeWidth":0},"encoding":{"angle":{"field":"k","type":"quantitative","scale":{"type":"threshold","domain":[1.5,2.5,3.5,4.5,5.5,6.5,7.5,8.5,9.5],"range":[123,95.5,180,180,124,127,239,223,220,153]},"legend":null}}}
 ]
},
{
 "width":555,"height":235,
 "encoding":{
  "x":{"field":"t","type":"quantitative","scale":{"domain":[-0.023,4.15],"nice":false,"zero":false},"axis":{"values":[0.5,1,1.5,2,2.5,3,3.5,4],"format":".1f","ticks":false,"labelPadding":4,"labelOverlap":false,"title":"Time (min)","titleFontSize":22,"titlePadding":9,"titleX":290}},
  "y":{"field":"v","type":"quantitative","scale":{"domain":[0,6.4],"nice":false},"axis":{"values":[0,1,2,3,4,5,6],"format":".1f","labelOverlap":false,"tickSize":3,"labelPadding":2,"titlePadding":13,"title":"Intensity (x10⁴ cps)"}}
 },
 "layer":[
  {"data":{"name":"txt"},"transform":[{"filter":"datum.p=='C' && datum.k=='letter'"}],"mark":{"type":"text","align":"left","baseline":"middle","fontSize":23},"encoding":{"text":{"field":"label"}}},
  {"data":{"name":"txt"},"transform":[{"filter":"datum.p=='C' && datum.k=='note'"}],"mark":{"type":"text","align":"left","baseline":"middle","fontSize":20},"encoding":{"text":{"field":"label"}}},
  {"data":{"name":"C"},"transform":[{"filter":"datum.s=='PG'"}],"mark":{"type":"line","clip":true,"strokeWidth":2,"color":"#a8a8a8"}},
  {"data":{"name":"C"},"transform":[{"filter":"datum.s=='PE'"}],"mark":{"type":"line","clip":true,"strokeWidth":2.6,"color":"#a8a8a8","strokeDash":[8,4]}},
  {"data":{"name":"C"},"transform":[{"filter":"datum.s=='LPE'"}],"mark":{"type":"line","clip":true,"strokeWidth":2,"color":"#231f20","strokeDash":[6,3]}},
  {"data":{"name":"C"},"transform":[{"filter":"datum.s=='SM' || datum.s=='LPS'"}],"mark":{"type":"line","clip":true,"strokeWidth":2,"color":"#231f20"},"encoding":{"detail":{"field":"s"}}},
  {"data":{"name":"arr"},"transform":[{"filter":"datum.p=='C'"}],"mark":{"type":"rule","strokeWidth":2,"color":"#231f20"},"encoding":{"x2":{"field":"t2"},"y2":{"field":"v2"}}},
  {"data":{"name":"heads"},"transform":[{"filter":"datum.p=='C'"}],"mark":{"type":"point","shape":"triangle","filled":true,"size":75,"color":"#231f20","opacity":1,"strokeWidth":0},"encoding":{"angle":{"field":"k","type":"quantitative","scale":{"type":"threshold","domain":[1.5,2.5,3.5,4.5,5.5,6.5,7.5,8.5,9.5],"range":[123,95.5,180,180,124,127,239,223,220,153]},"legend":null}}}
 ]
}
]
}
